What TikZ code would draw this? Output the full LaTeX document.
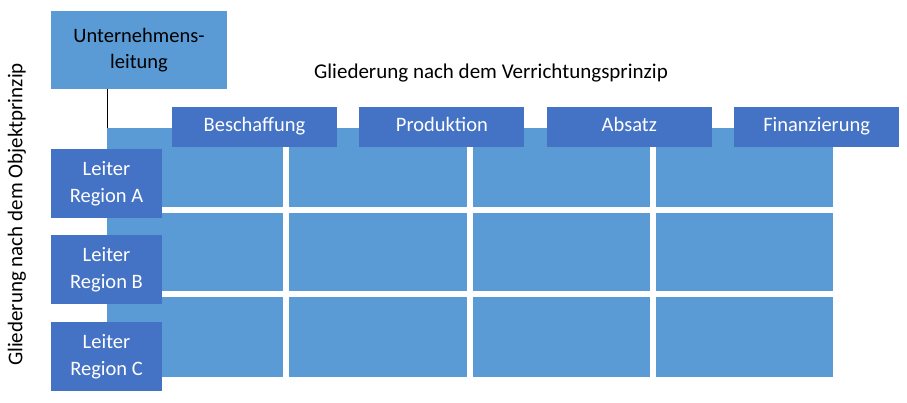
\documentclass[tikz,border=0pt]{standalone}
\usepackage{fontspec}
\setmainfont{Carlito}
\definecolor{hellblau}{RGB}{91, 155, 213}
\definecolor{dunkelblau}{RGB}{68, 114, 196}
\usetikzlibrary{positioning}
\tikzset{
  schrift/.style={font=\fontsize{20.5}{26.5}\selectfont},
  titel/.style={font=\fontsize{21}{26}\selectfont},
  kopf/.style={schrift, fill=dunkelblau, text=white, minimum width=165pt, minimum height=40pt, inner sep=0pt, text height=14pt, text depth=4pt},
  leiter/.style={schrift, fill=dunkelblau, text=white, minimum width=111pt, minimum height=69pt, inner sep=0pt, align=center},
  luecke/.style={white, line width=6pt},
}
\begin{document}
\begin{tikzpicture}[x=1pt, y=-1pt, node distance=22pt]
  \useasboundingbox (0, 0) rectangle (907, 402);

  % Feld der Stellen
  \node[fill=hellblau, minimum width=726pt, minimum height=249pt, inner sep=0pt] (feld) at (470, 252.5) {};
  \foreach \x in {285.5, 469.5, 653} \draw[luecke] (\x, 128) -- (\x, 377);
  \foreach \y in {209.5, 294} \draw[luecke] (107, \y) -- (833, \y);

  % Leitung
  \node[schrift, fill=hellblau, minimum width=176pt, minimum height=78pt, inner sep=0pt, align=center] (leitung) at (139, 50) {Unternehmens-\\leitung};
  \draw[thin] (leitung.south -| feld.north west) -- (feld.north west);

  % Verrichtungen
  \node[kopf] (beschaffung) at (254.5, 126.5) {Beschaffung};
  \node[kopf, right=of beschaffung] (produktion) {Produktion};
  \node[kopf, right=of produktion] (absatz) {Absatz};
  \node[kopf, right=of absatz] (finanzierung) {Finanzierung};

  % Regionen
  \node[leiter] (regionA) at (106.5, 183.5) {Leiter\\Region A};
  \node[leiter, below=17pt of regionA] (regionB) {Leiter\\Region B};
  \node[leiter, below=17.5pt of regionB] (regionC) {Leiter\\Region C};

  \node[titel] (verrichtung) at (491, 73) {Gliederung nach dem Verrichtungsprinzip};
  \node[titel, rotate=90] (objekt) at (17, 214.5) {Gliederung nach dem Objektprinzip};
\end{tikzpicture}
\end{document}
